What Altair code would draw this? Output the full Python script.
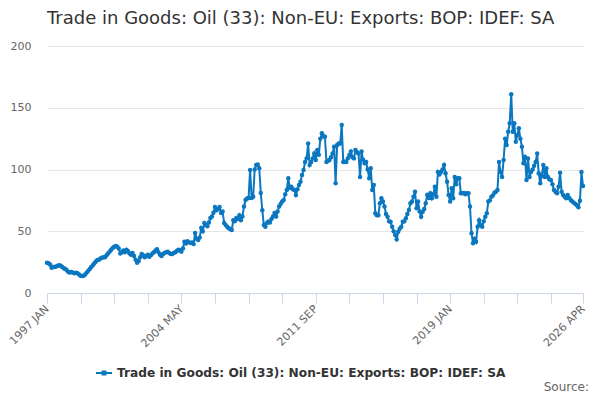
import altair as alt
import pandas as pd

TITLE = "Trade in Goods: Oil (33): Non-EU: Exports: BOP: IDEF: SA"
SERIES = "Trade in Goods: Oil (33): Non-EU: Exports: BOP: IDEF: SA"
MONTHS = ["JAN", "FEB", "MAR", "APR", "MAY", "JUN", "JUL", "AUG", "SEP", "OCT", "NOV", "DEC"]

v1997 = [24.5, 24, 23, 20.5, 21, 21, 21.5, 22, 22.5, 22, 21, 20]
v1998 = [19.5, 18.5, 17, 16.5, 17, 16.5, 16, 16.5, 16, 15, 14, 13.8]
v1999 = [14, 15, 16.5, 18, 19.4, 21, 22.5, 24, 25.5, 26.7, 27, 28]
v2000 = [28.5, 29, 29, 30.5, 32, 33.5, 35, 36.5, 37.5, 38, 37.5, 36]
v2001 = [32, 33, 34.5, 33, 35, 34, 32, 31, 32.5, 30, 27, 24.5]
v2002 = [26, 29, 31.6, 30.5, 29, 30, 31, 29.4, 30.5, 32, 33, 34.5]
v2003 = [35.5, 33, 31, 30, 31.5, 32.5, 33, 33.5, 32.5, 31.5, 31.6, 32.5]
v2004 = [33, 34, 35, 34.8, 33.5, 36, 41.5, 40, 42, 41, 40.5, 41]
v2005 = [39.7, 48.6, 44, 43, 45, 52.6, 50, 56.7, 55, 54, 57, 60.7]
v2006 = [62, 65, 69.6, 67, 68, 69.6, 64.8, 66, 56.7, 55, 53.7, 52.5]
v2007 = [51.8, 51, 59, 58, 60.7, 60, 63, 59, 62, 70, 75.3, 76.5]
v2008 = [77, 99.6, 77, 78, 100, 103.6, 104, 101, 81, 67, 55, 53.7]
v2009 = [56.7, 58, 57, 60, 62, 64.8, 62, 66, 70, 72, 74, 75.3]
v2010 = [80, 83.4, 93, 85, 86, 84, 83.4, 79.4, 84, 87.4, 90, 95.5]
v2011 = [99.6, 106, 109, 121, 103.6, 106, 109, 113, 107.7, 115.8, 112, 125]
v2012 = [129.3, 127, 126.6, 106, 107, 107.7, 110, 113, 118.5, 88.8, 119.8, 121]
v2013 = [121, 136, 106, 106.5, 106, 109, 111.7, 114.5, 110, 109, 115.8, 114]
v2014 = [113, 94, 114.5, 108, 105, 106, 100, 93, 101, 83.4, 87.4, 64.5]
v2015 = [63, 63, 72.6, 76.7, 74, 70, 64, 61.8, 58, 57.7, 53.7, 50]
v2016 = [47, 43.5, 49.6, 52, 53.7, 57.7, 58, 60.5, 64, 67.2, 72.6, 74]
v2017 = [78, 82, 68.6, 74, 66, 61.8, 65.8, 68, 72.6, 79.4, 77, 80.7]
v2018 = [76.7, 80, 86, 78, 98, 96, 98, 100, 103.6, 97, 90, 79.4]
v2019 = [74, 84.8, 76.7, 94, 88, 93, 93, 80.7, 80.7, 81, 80, 80.7]
v2020 = [80.7, 70, 48.3, 40.2, 44, 41.5, 53.7, 59, 55, 53.7, 58, 61.8]
v2021 = [64.5, 74, 75, 78, 79, 81.2, 82, 83.4, 106, 98, 94, 107.7]
v2022 = [125, 119.8, 130.6, 137.4, 161, 130.6, 137.4, 122.5, 128, 133.4, 125, 118.5]
v2023 = [105, 110.4, 91.5, 109, 94, 98, 100, 103, 106, 113, 97, 88.8]
v2024 = [95, 103.6, 94, 101, 94, 92, 91.5, 88, 83.4, 82, 80.7, 86]
v2025 = [97.4, 82, 79.4, 78, 76.7, 79.4, 77, 75.3, 74, 73, 72, 71]
v2026 = [69.4, 74.7, 98, 86.6]

yearly = [v1997, v1998, v1999, v2000, v2001, v2002, v2003, v2004, v2005, v2006,
          v2007, v2008, v2009, v2010, v2011, v2012, v2013, v2014, v2015, v2016,
          v2017, v2018, v2019, v2020, v2021, v2022, v2023, v2024, v2025, v2026]

labels, values = [], []
for k, vals in enumerate(yearly):
    for m, v in enumerate(vals):
        labels.append(f"{1997 + k} {MONTHS[m]}")
        values.append(v)

df = pd.DataFrame({"label": labels, "value": values, "series": SERIES})

tick_idx = list(range(0, 331, 22)) + [len(labels) - 1]
tick_vals = [labels[i] for i in tick_idx]
shown = [labels[i] for i in [0, 88, 176, 264, len(labels) - 1]]
shown_js = "[" + ",".join(f"'{s}'" for s in shown) + "]"

FONT = "DejaVu Sans"
BLUE = "#0b77c0"

x = alt.X("label:O", sort=None, title=None,
          scale=alt.Scale(type="point", padding=0),
          axis=alt.Axis(values=tick_vals,
                        labelExpr=f"indexof({shown_js}, datum.value) >= 0 ? datum.value : ''",
                        labelAngle=-45, labelAlign="right", labelBaseline="middle",
                        labelFontSize=11, labelColor="#666666", labelFont=FONT,
                        labelPadding=4, labelOverlap=False,
                        tickSize=10, tickColor="#ccd6eb", domainColor="#ccd6eb",
                        grid=False))
y = alt.Y("value:Q", title=None,
          scale=alt.Scale(domain=[0, 200], nice=False),
          axis=alt.Axis(values=[0, 50, 100, 150, 200], domain=False, ticks=False,
                        labelFontSize=11, labelColor="#666666", labelFont=FONT,
                        labelPadding=16, gridColor="#e6e6e6"))

color = alt.Color("series:N", scale=alt.Scale(range=[BLUE]),
                  legend=alt.Legend(title=None, orient="none", legendX=48, legendY=318,
                                    labelFont=FONT, labelFontSize=12.2, labelFontWeight="bold",
                                    labelColor="#333333", labelLimit=0,
                                    symbolType="M-1,0L1,0M-0.18,-0.18L0.18,-0.18L0.18,0.18L-0.18,0.18Z",
                                    symbolSize=256, symbolStrokeWidth=2,
                                    symbolStrokeColor=BLUE, symbolFillColor=BLUE))

base = alt.Chart(df)
line = base.mark_line(strokeWidth=2).encode(x=x, y=y, color=color)
pts = base.mark_circle(size=20, opacity=1).encode(x=x, y=y, color=color)

source = alt.Chart(pd.DataFrame({"t": ["Source:"]})).mark_text(
    align="right", baseline="alphabetic", fontSize=12, color="#666666", font=FONT
).encode(x=alt.value(542), y=alt.value(345), text="t:N")

chart = alt.layer(line, pts, source).properties(
    width=536, height=247,
    title=alt.TitleParams(TITLE, anchor="start", frame="group", fontSize=18,
                          font=FONT, fontWeight="normal", color="#333333", offset=12),
    autosize=alt.AutoSizeParams(type="none"),
    padding={"left": 39, "top": 38, "right": 9, "bottom": 101},
).configure_view(stroke=None)

chart.save("out.html", embed_options={"renderer": "svg", "actions": False})
